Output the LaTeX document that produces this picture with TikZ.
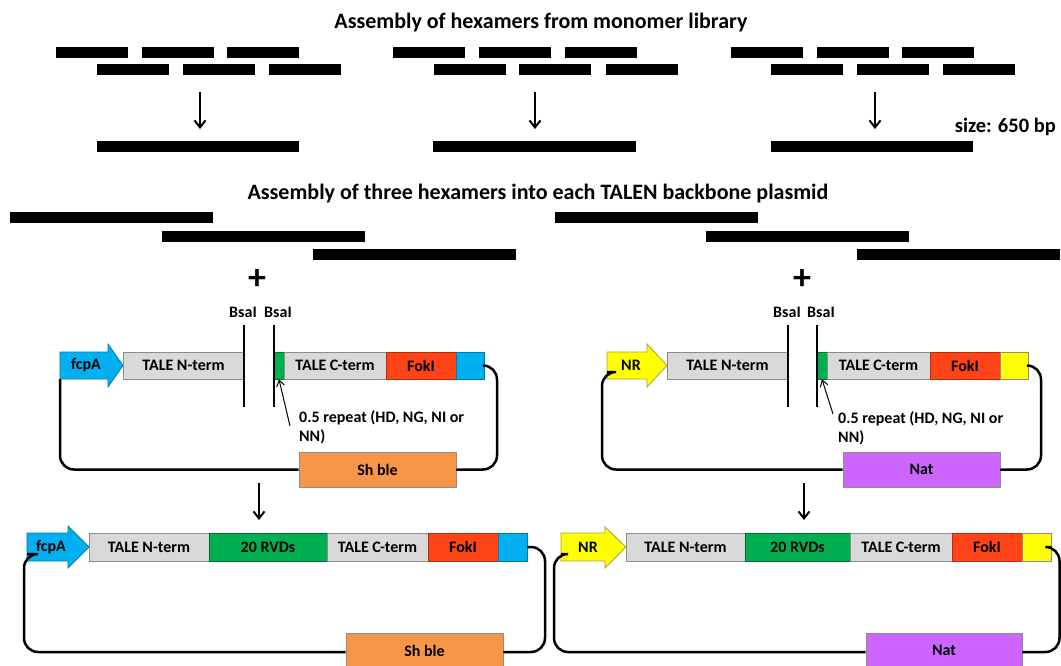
\documentclass[tikz,border=0pt]{standalone}
\usepackage{fontspec}
\setmainfont{Carlito}
\usetikzlibrary{arrows.meta}
\definecolor{lgray}{HTML}{D9D9D9}
\definecolor{tgreen}{HTML}{00B050}
\definecolor{fokred}{HTML}{FF4517}
\definecolor{tblue}{HTML}{00B0F0}
\definecolor{tyellow}{HTML}{FFFF00}
\definecolor{shorange}{HTML}{F79646}
\definecolor{natpurple}{HTML}{CC66FF}
\newcommand\labfont{\fontsize{16}{19}\selectfont\bfseries}
\newcommand\titfont{\fontsize{22}{26}\selectfont\bfseries}
\newcommand\sizefont{\fontsize{20.5}{24}\selectfont\bfseries}
\newcommand\plusfont{\fontsize{36}{36}\selectfont\bfseries}
\begin{document}
\begin{tikzpicture}[x=1pt,y=-1pt,
  bar/.style={fill=black,inner sep=0,minimum height=11,minimum width=72},
  longbar/.style={fill=black,inner sep=0,minimum height=11,minimum width=203},
  seg/.style={draw=black!45,line width=0.8,inner sep=0,minimum height=27,font=\labfont},
  segb/.style={seg,minimum height=28},
  gray/.style={fill=lgray},
  grn/.style={fill=tgreen,draw=tgreen!60!black},
  red/.style={fill=fokred,draw=fokred!70!black},
  blu/.style={fill=tblue,draw=tblue!70!black},
  yel/.style={fill=tyellow,draw=black!45},
  marker/.style={draw=black!45,line width=0.8,inner sep=0,minimum height=35,font=\labfont},
  promB/.style={fill=tblue,draw=tblue!70!black,line width=0.8},
  promY/.style={fill=tyellow,draw=yellow!60!black,line width=0.8},
  loopline/.style={line width=2.5,rounded corners=14},
  vline/.style={line width=2},
  arr/.style={line width=2,-{Straight Barb[length=7,width=11,line width=2]}},
  thinarr/.style={line width=1,-{Straight Barb[length=6,width=8,line width=1]}},
  lbl/.style={font=\labfont,inner sep=0}
]
\useasboundingbox (0,0) rectangle (1061,666);
\clip (0,0) rectangle (1061,666);
\fill[white] (0,0) rectangle (1061,666);

% ---------- top section ----------
\node[font=\titfont] (T1) at (541,23) {Assembly of hexamers from monomer library};

\foreach \x [count=\i] in {92,177.5,263,429,514.5,600.5,766.5,852.5,937.5}
  \node[bar] (m1\i) at (\x,52.5) {};
\foreach \x [count=\i] in {132.5,218.5,304.5,469.5,555,641.5,806.5,892.5,979}
  \node[bar] (m2\i) at (\x,69.5) {};

\node[longbar,minimum width=202] (H1) at (198,147) {};
\node[longbar,minimum width=203] (H2) at (534.5,147) {};
\node[longbar,minimum width=202] (H3) at (872,147) {};

\coordinate (a1s) at (200,92);
\coordinate (a2s) at (535,92);
\coordinate (a3s) at (875,92);
\draw[arr] (a1s) -- (a1s |- 0,129);
\draw[arr] (a2s) -- (a2s |- 0,129);
\draw[arr] (a3s) -- (a3s |- 0,129);

\node[font=\sizefont,inner sep=0,anchor=east] (size) at (1056,127) {size: 650 bp};

% ---------- middle section ----------
\node[font=\titfont] (T2) at (538,194) {Assembly of three hexamers into each TALEN backbone plasmid};

\node[longbar] (LH1) at (111.5,217.5) {};
\node[longbar] (LH2) at (263,236.5) {};
\node[longbar] (LH3) at (414.5,254.5) {};
\node[longbar] (RH1) at (656,217.5) {};
\node[longbar] (RH2) at (807,236.5) {};
\node[longbar] (RH3) at (958.5,254.5) {};

\node[font=\plusfont,inner sep=0] (P1) at (257,280) {+};
\node[font=\plusfont,inner sep=0] (P2) at (802,280) {+};

% ---------- left backbone plasmid ----------
\draw[promB] (60,352) -- (108,352) -- (108,344) -- (123,365.5) -- (108,387) -- (108,379) -- (60,379) -- cycle;
\node[lbl] (L1a) at (86,365.5) {fcpA};
\coordinate (L1ab) at (60,379);
\node[seg,gray,minimum width=121] (L1n) at (183.5,365.5) {TALE N-term};
\node[seg,grn,minimum width=10] (L1g) at (279,365.5) {};
\node[seg,gray,minimum width=102] (L1c) at (335,365.5) {TALE C-term};
\node[seg,red,minimum width=70] (L1f) at (421,365.5) {FokI};
\node[seg,blu,minimum width=28] (L1b) at (470,365.5) {};
\node[lbl] (L1bs1) at (243,312) {BsaI};
\node[lbl] (L1bs2) at (278,312) {BsaI};
\coordinate (L1v1t) at (244,325); \coordinate (L1v1b) at (244,407);
\coordinate (L1v2t) at (274,325); \coordinate (L1v2b) at (274,407);
\draw[vline] (L1v1t) -- (L1v1b);
\draw[vline] (L1v2t) -- (L1v2b);
\node[marker,fill=shorange,minimum width=157] (L1s) at (377.5,469.5) {Sh ble};
\draw[loopline] (L1b.east) -- (497,365.5) -- (497,469.5) -- (L1s.east);
\draw[loopline] (L1s.west) -- (60,469.5) -- (L1ab);
\node[lbl,anchor=west,align=left] (L1r) at (299,427.5) {0.5 repeat (HD, NG, NI or\\NN)};
\coordinate (L1rs) at (290,426);
\draw[thinarr] (L1rs) -- (L1g.south);
\coordinate (d1s) at (259,483);
\draw[arr] (d1s) -- (259,520);

% ---------- right backbone plasmid ----------
\draw[promY] (607,352) -- (647,352) -- (647,344) -- (667,365.5) -- (647,387) -- (647,379) -- (607,379) -- cycle;
\node[lbl] (R1a) at (631,365.5) {NR};
\node[seg,gray,minimum width=121] (R1n) at (727.5,365.5) {TALE N-term};
\node[seg,grn,minimum width=10] (R1g) at (822,365.5) {};
\node[seg,gray,minimum width=103] (R1c) at (878.5,365.5) {TALE C-term};
\node[seg,red,minimum width=70] (R1f) at (965,365.5) {FokI};
\node[seg,yel,minimum width=28] (R1b) at (1014,365.5) {};
\node[lbl] (R1bs1) at (787,312) {BsaI};
\node[lbl] (R1bs2) at (821,312) {BsaI};
\coordinate (R1v1t) at (788,325); \coordinate (R1v1b) at (788,407);
\coordinate (R1v2t) at (817,325); \coordinate (R1v2b) at (817,407);
\draw[vline] (R1v1t) -- (R1v1b);
\draw[vline] (R1v2t) -- (R1v2b);
\node[marker,fill=natpurple,minimum width=157] (R1s) at (921.5,469.5) {Nat};
\draw[loopline] (R1b.east) -- (1041,365.5) -- (1041,469.5) -- (R1s.east);
\draw[loopline] (R1s.west) -- (602,469.5) -- (602,372) -- (607,372);
\node[lbl,anchor=west,align=left] (R1r) at (838,428) {0.5 repeat (HD, NG, NI or\\NN)};
\coordinate (R1rs) at (833,414);
\draw[thinarr] (R1rs) -- (R1g.south);
\coordinate (d2s) at (804,483);
\draw[arr] (d2s) -- (804,520);

% ---------- bottom left plasmid ----------
\draw[promB] (27,533) -- (68,533) -- (68,526) -- (89,547) -- (68,568) -- (68,561) -- (27,561) -- cycle;
\node[lbl] (L2a) at (51,547) {fcpA};
\node[segb,gray,minimum width=120] (L2n) at (149,547) {TALE N-term};
\node[segb,grn,minimum width=118] (L2r) at (268,547) {20 RVDs};
\node[segb,gray,minimum width=101] (L2c) at (377.5,547) {TALE C-term};
\node[segb,red,minimum width=70] (L2f) at (463,547) {FokI};
\node[segb,blu,minimum width=29] (L2b) at (512.5,547) {};
\node[marker,fill=shorange,minimum width=157] (L2s) at (424.5,650.5) {Sh ble};
\draw[loopline] (L2b.east) -- (545,547) -- (545,652) -- (L2s.east |- 0,652);
\draw[loopline] (L2s.west |- 0,652) -- (24,652) -- (24,554) -- (27,554);

% ---------- bottom right plasmid ----------
\draw[promY] (561,533) -- (605,533) -- (605,527) -- (626,547) -- (605,568) -- (605,561) -- (561,561) -- cycle;
\node[lbl] (R2a) at (588,547) {NR};
\node[segb,gray,minimum width=119] (R2n) at (685.5,547) {TALE N-term};
\node[segb,grn,minimum width=105] (R2r) at (797.5,547) {20 RVDs};
\node[segb,gray,minimum width=102] (R2c) at (901,547) {TALE C-term};
\node[segb,red,minimum width=70] (R2f) at (987,547) {FokI};
\node[segb,yel,minimum width=29] (R2b) at (1036.5,547) {};
\node[marker,fill=natpurple,minimum width=156] (R2s) at (944,650.5) {Nat};
\draw[loopline] (R2b.east) -- (1059.5,547) -- (1059.5,652) -- (R2s.east |- 0,652);
\draw[loopline] (R2s.west |- 0,652) -- (554,652) -- (554,554) -- (561,554);
\end{tikzpicture}
\end{document}
